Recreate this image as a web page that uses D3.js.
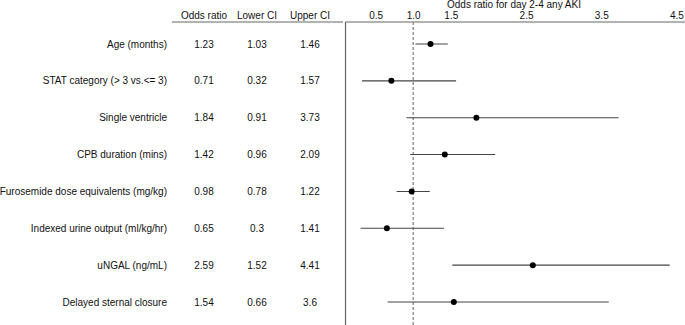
<!DOCTYPE html>
<html>
<head>
<meta charset="utf-8">
<script src="https://cdn.jsdelivr.net/npm/d3@7"></script>
<style>
  body { margin: 0; background: #fff; }
  svg { display: block; font-family: "Liberation Sans", Arial, sans-serif; }
</style>
</head>
<body>
<svg width="685" height="325"></svg>
<script>
// rows of the forest plot
const labels = [
  "Age (months)",
  "STAT category (> 3 vs.<= 3)",
  "Single ventricle",
  "CPB duration (mins)",
  "Furosemide dose equivalents (mg/kg)",
  "Indexed urine output (ml/kg/hr)",
  "uNGAL (ng/mL)",
  "Delayed sternal closure"
];
const oddsRatio = ["1.23", "0.71", "1.84", "1.42", "0.98", "0.65", "2.59", "1.54"];
const lowerCI   = ["1.03", "0.32", "0.91", "0.96", "0.78", "0.3", "1.52", "0.66"];
const upperCI   = ["1.46", "1.57", "3.73", "2.09", "1.22", "1.41", "4.41", "3.6"];
const headers   = ["Odds ratio", "Lower CI", "Upper CI"];
const tickVals  = [0.5, 1.0, 1.5, 2.5, 3.5, 4.5];
const axisTitle = "Odds ratio for day 2-4 any AKI";

const svg = d3.select("svg");

const y = d3.scalePoint().domain(labels).range([44, 302]);
const x = d3.scaleLinear().domain([0.1, 4.6]).range([345.5, 684]);
const col = d3.scalePoint().domain(headers).range([204, 310]);

const axisY = 22;

// table header
svg.selectAll(".hdr").data(headers).enter().append("text")
    .attr("x", d => col(d)).attr("y", 18.5)
    .attr("text-anchor", "middle")
    .attr("font-size", 10).attr("fill", "#111")
    .text(d => d);

svg.append("line")
    .attr("x1", 172).attr("x2", 343)
    .attr("y1", axisY).attr("y2", axisY)
    .attr("stroke", "#666").attr("stroke-width", 1.2);

// row labels and values
const rows = labels.map((d, i) => ({ label: d, vals: [oddsRatio[i], lowerCI[i], upperCI[i]] }));

svg.selectAll(".lab").data(rows).enter().append("text")
    .attr("x", 167).attr("y", d => y(d.label) + 3.5)
    .attr("text-anchor", "end")
    .attr("font-size", 10).attr("fill", "#111")
    .text(d => d.label);

rows.forEach(r => {
  svg.selectAll(null).data(r.vals).enter().append("text")
      .attr("x", (d, j) => col(headers[j])).attr("y", y(r.label) + 3.5)
      .attr("text-anchor", "middle")
      .attr("font-size", 10).attr("fill", "#111")
      .text(d => d);
});

// plot axes
svg.append("line")
    .attr("x1", x.range()[0]).attr("x2", 685)
    .attr("y1", axisY).attr("y2", axisY)
    .attr("stroke", "#666").attr("stroke-width", 1.2);
svg.append("line")
    .attr("x1", x.range()[0]).attr("x2", x.range()[0])
    .attr("y1", axisY).attr("y2", 325)
    .attr("stroke", "#666").attr("stroke-width", 1.2);

const ax = svg.append("g")
    .attr("transform", `translate(0,${axisY})`)
    .call(d3.axisTop(x).tickValues(tickVals).tickFormat(d3.format(".1f")).tickSize(0).tickPadding(3));
ax.select(".domain").remove();
ax.selectAll("text").attr("font-size", 10).attr("fill", "#111")
    .attr("font-family", "Liberation Sans, Arial, sans-serif");

svg.append("text")
    .attr("x", 514).attr("y", 8)
    .attr("text-anchor", "middle")
    .attr("font-size", 10).attr("fill", "#111")
    .text(axisTitle);

// reference line at OR = 1
svg.append("line")
    .attr("x1", x(1)).attr("x2", x(1))
    .attr("y1", axisY).attr("y2", 325)
    .attr("stroke", "#888").attr("stroke-width", 1.3)
    .attr("stroke-dasharray", "3,2");

// confidence intervals and points
svg.selectAll(".ci").data(labels).enter().append("line")
    .attr("x1", (d, i) => x(+lowerCI[i])).attr("x2", (d, i) => x(+upperCI[i]))
    .attr("y1", d => y(d)).attr("y2", d => y(d))
    .attr("stroke", "#444").attr("stroke-width", 1.1);

svg.selectAll(".pt").data(labels).enter().append("circle")
    .attr("cx", (d, i) => x(+oddsRatio[i])).attr("cy", d => y(d))
    .attr("r", 3).attr("fill", "#000");
</script>
</body>
</html>
